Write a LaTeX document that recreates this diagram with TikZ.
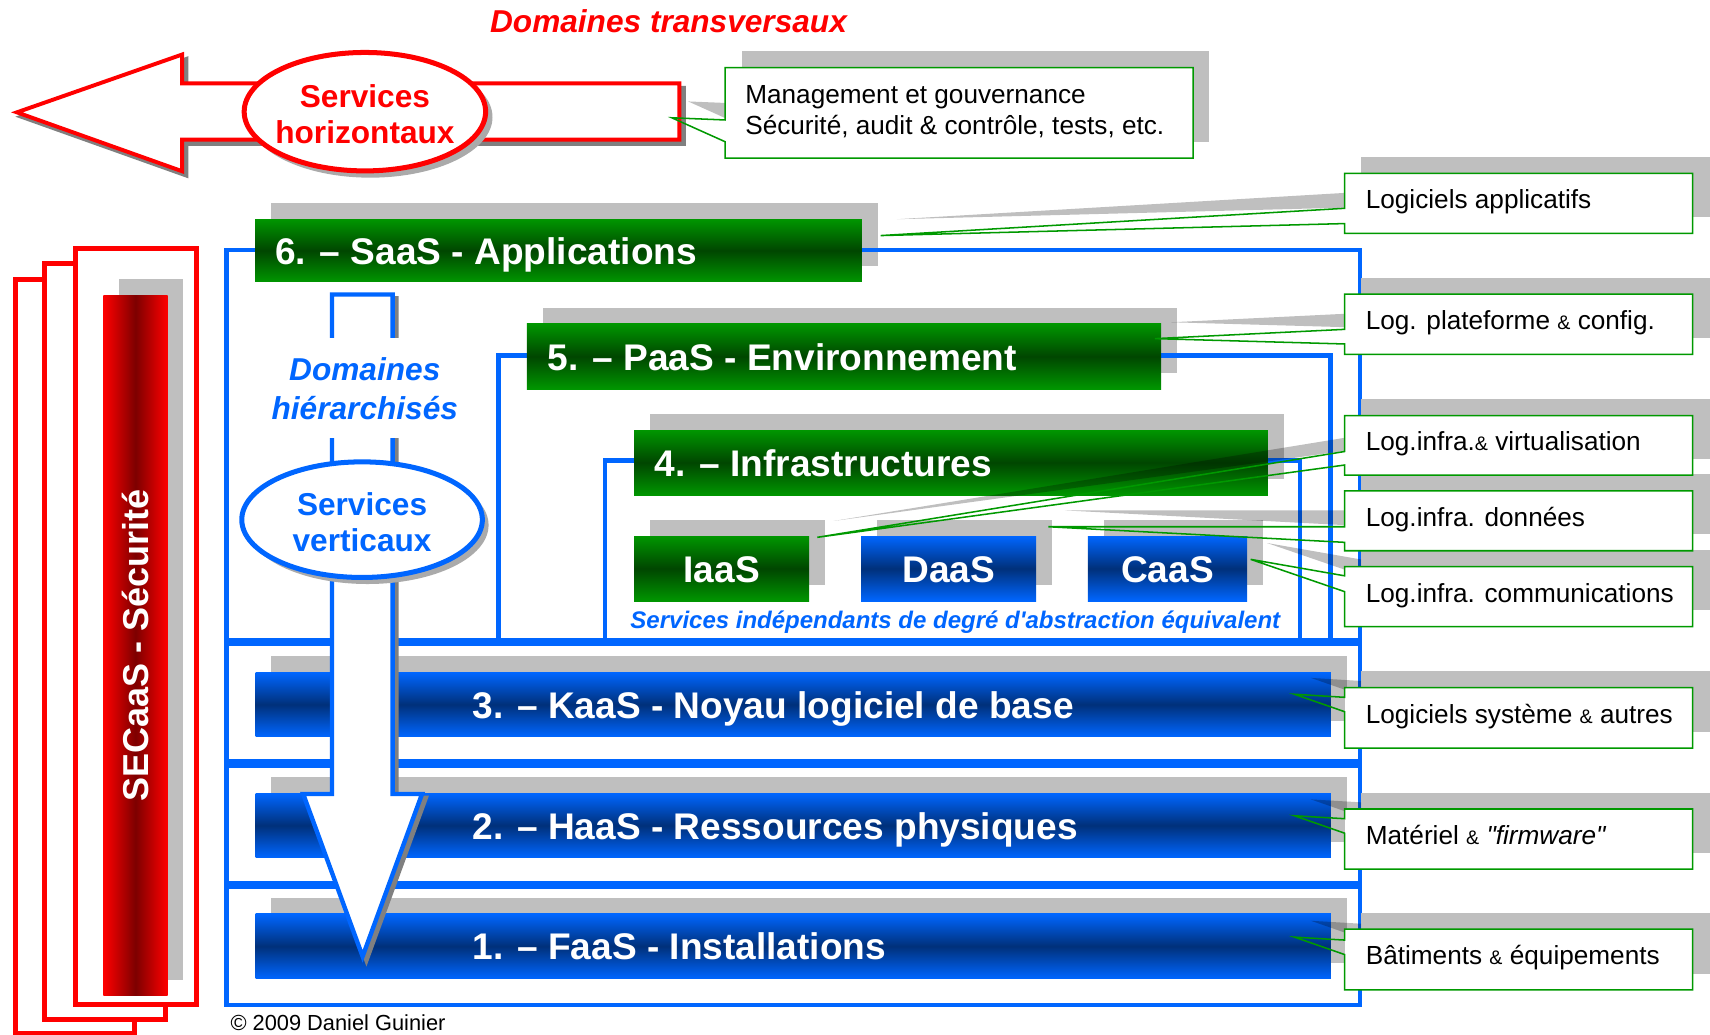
\documentclass[tikz,border=0pt]{standalone}
\usepackage{fontspec}
\setmainfont{Liberation Sans}[Ligatures=TeXOff]
\newdimen\pxu
\pxu=0.5pt
\definecolor{gB}{RGB}{0,150,0}
\definecolor{gD}{RGB}{0,70,0}
\definecolor{bB}{RGB}{0,102,255}
\definecolor{bD}{RGB}{0,48,122}
\definecolor{rB}{RGB}{255,0,0}
\definecolor{rD}{RGB}{125,0,0}
\definecolor{lblue}{RGB}{0,102,255}
\definecolor{cgreen}{RGB}{0,153,0}
\definecolor{shdgray}{RGB}{191,191,191}
\definecolor{ashd}{RGB}{128,128,128}
\definecolor{eshd}{RGB}{170,170,170}
\definecolor{tred}{RGB}{255,0,0}
\tikzset{
  gbar/.style={top color=gB, bottom color=gB, middle color=gD},
  bbar/.style={top color=bB, bottom color=bB, middle color=bD},
  bartxt/.style={text=white, font=\fontsize{17}{20}\selectfont\bfseries, inner sep=0pt},
  bframe/.style={draw=lblue, line width=2pt},
  rframe/.style={draw=tred, line width=2.3pt, fill=white},
  callbox/.style={fill=white, inner sep=0pt, outer sep=0pt, anchor=north west, minimum width=159.5pt},
  callline/.style={draw=cgreen, line width=0.7pt, line join=miter},
  ctext/.style={font=\fontsize{12}{14.5}\selectfont, anchor=base west, inner sep=0pt, text=black},
  wshd/.style={fill=black, fill opacity=0.25},
  bigtxt/.style={font=\fontsize{14.5}{16.7}\selectfont\bfseries, align=center, inner sep=0pt},
}
\newcommand\barshadow[4]{\fill[shdgray] ({#1+14.5},{#2-14.7}) rectangle ({#3+14.5},{#4-14.7});}
\newcommand\layerbar[8]{\path[#1] (#3,#4) rectangle (#5,#6);
  \node[bartxt, anchor=base west] (#2) at (#7,{(#4+#6)/2+12.5}) {#8};}
\newcommand\smallbar[7]{\path[#1] (#3,#4) rectangle (#5,#6);
  \node[bartxt, anchor=base] (#2) at ({(#3+#5)/2},{(#4+#6)/2+12.5}) {#7};}
\newcommand\rcallshadow[7]{%
  \fill[shdgray] (1248,{#2-15}) rectangle (1568,{#3-15});
  \fill[wshd] (1248,{#4-15}) -- ({#6+15},{#7-15}) -- (1248,{#5-15}) -- cycle;}
\newcommand\rcallbox[8]{%
  \node[callbox, minimum height={(#3-#2)*\pxu}] (#1) at (1233,#2) {};
  \coordinate (#1a) at (1233,#4);
  \coordinate (#1b) at (1233,#5);
  \coordinate (#1t) at (#6,#7);
  \draw[callline] (#1a) -- (#1.north west) -- (#1.north east) -- (#1.south east) -- (#1.south west) -- (#1b) -- (#1t) -- cycle;
  \node[ctext] (#1x) at (1252,{#2+32.5}) {#8};}
\newcommand\samp{{\fontsize{9}{9}\selectfont\&}}
\begin{document}
\begin{tikzpicture}[x=0.5pt, y=-0.5pt]
\useasboundingbox (0,0) rectangle (1568,949);
\fill[white] (0,0) rectangle (1568,949);
% left security pages
\draw[rframe] (13.8,256) rectangle (123.7,947.5);
\draw[rframe] (41,242) rectangle (151.8,934.5);
\draw[rframe] (69,228) rectangle (180,921);
\fill[shdgray] (109.4,256) rectangle (168.1,898.6);
\path[left color=rB, right color=rB, middle color=rD] (94.8,270.5) rectangle (153.8,913);
\node[rotate=90, anchor=base, text=white, font=\fontsize{16.5}{19}\selectfont\bfseries, inner sep=0pt] (sec) at (136,592) {SECaaS - Sécurité};
% bar shadows
\barshadow{234}{201}{790.4}{258.5}
\barshadow{483.2}{297}{1064.8}{356.7}
\barshadow{581.5}{394.3}{1162.6}{453.9}
\barshadow{581.5}{491.5}{742}{551.1}
\barshadow{789.7}{491.5}{950.1}{551.1}
\barshadow{997.5}{491.5}{1143.5}{551.1}
\barshadow{234.4}{616.5}{1220.4}{675.5}
\barshadow{234.4}{727.4}{1220.4}{786.4}
\barshadow{234.4}{838}{1220.4}{897.4}
% frames
\draw[bframe] (207.6,229) rectangle (1247,587);
\draw[bframe] (457,326) rectangle (1220,587);
\draw[bframe] (555,422.3) rectangle (1192,587);
\draw[bframe] (207.6,590) rectangle (1247,698);
\draw[bframe] (207.6,702) rectangle (1247,809.5);
\draw[bframe] (207.6,813) rectangle (1247,921.5);
% bars
\layerbar{gbar}{saas}{234}{201}{790.4}{258.5}{252}{6. – SaaS - Applications}
\layerbar{gbar}{paas}{483.2}{297}{1064.8}{356.7}{502}{5. – PaaS - Environnement}
\layerbar{gbar}{infra}{581.5}{394.3}{1162.6}{453.9}{600}{4. – Infrastructures}
\smallbar{gbar}{iaas}{581.5}{491.5}{742}{551.1}{IaaS}
\smallbar{bbar}{daas}{789.7}{491.5}{950.1}{551.1}{DaaS}
\smallbar{bbar}{caas}{997.5}{491.5}{1143.5}{551.1}{CaaS}
\layerbar{bbar}{kaas}{234.4}{616.5}{1220.4}{675.5}{433}{3. – KaaS - Noyau logiciel de base}
\layerbar{bbar}{haas}{234.4}{727.4}{1220.4}{786.4}{433}{2. – HaaS - Ressources physiques}
\layerbar{bbar}{faas}{234.4}{838}{1220.4}{897.4}{433}{1. – FaaS - Installations}
\node[anchor=base, text=lblue, font=\fontsize{11}{13}\selectfont\bfseries\itshape, inner sep=0pt] (cap) at (876,576.4) {Services indépendants de degré d'abstraction équivalent};
% vertical arrow
\path[fill=ashd, draw=ashd, line width=2pt, line join=miter, shift={(3.5,3.5)}] (304.4,270) -- (360,270) -- (360,728) -- (387,728) -- (332.5,877) -- (278,728) -- (304.4,728) -- cycle;
\draw[draw=lblue, fill=white, line width=2pt, line join=miter] (304.4,270) -- (360,270) -- (360,728) -- (387,728) -- (332.5,877) -- (278,728) -- (304.4,728) -- cycle;
\node[bigtxt, text=lblue, font=\fontsize{14.5}{17.9}\selectfont\bfseries\itshape, fill=white, minimum height=46pt] (dh) at (334.5,356) {Domaines\\hiérarchisés};
\fill[eshd] (337,481.5) ellipse [x radius=111, y radius=54];
\draw[draw=lblue, line width=2.3pt, fill=white] (332,476.5) ellipse [x radius=110.3, y radius=53];
\node[bigtxt, text=lblue, font=\fontsize{14.5}{16.5}\selectfont\bfseries] (sv) at (332,478.5) {Services\\verticaux};
% horizontal arrow
\path[fill=ashd, draw=ashd, line width=1.8pt, line join=miter, shift={(4,4)}] (623,76.5) -- (167,76.5) -- (167,50) -- (15.5,103) -- (167,157) -- (167,128) -- (623,128) -- cycle;
\draw[draw=tred, fill=white, line width=1.8pt, line join=miter] (623,76.5) -- (167,76.5) -- (167,50) -- (15.5,103) -- (167,157) -- (167,128) -- (623,128) -- cycle;
\fill[eshd] (339.6,107.4) ellipse [x radius=112, y radius=55.5];
\draw[draw=tred, line width=2.3pt, fill=white] (334.6,102.4) ellipse [x radius=110.7, y radius=54.3];
\node[bigtxt, text=tred] (sh) at (334.6,104.5) {Services\\horizontaux};
\node[anchor=base, text=tred, font=\fontsize{14.5}{17}\selectfont\bfseries\itshape, inner sep=0pt] (dt) at (613,29.6) {Domaines transversaux};
% callout shadows
\fill[shdgray] (680,46.7) rectangle (1109,130);
\fill[wshd] (680,95) -- (631,93) -- (680,115) -- cycle;
\rcallshadow{la}{159}{214}{191}{205}{807.5}{216}
\rcallshadow{lp}{269.6}{324.9}{302}{315.4}{1059}{310.5}
\rcallshadow{lv}{381}{435.6}{414}{426.4}{749.4}{492.7}
\rcallshadow{ld}{450}{505}{483}{497.3}{961.4}{483}
\rcallshadow{lc}{519.6}{574.6}{528}{542.5}{1146.8}{512.9}
\rcallshadow{ls}{630.5}{686}{639.4}{652.6}{1187}{636.6}
\rcallshadow{lm}{741.8}{797}{750.7}{764}{1187}{748}
\rcallshadow{lb}{852}{907.7}{862}{875.3}{1187}{859.3}
% callout boxes
\node[callbox, minimum width=214.5pt, minimum height=41.5pt] (mg) at (665,62) {};
\coordinate (mga) at (665,110);
\coordinate (mgb) at (665,130);
\coordinate (mgt) at (616,108);
\draw[callline] (mga) -- (mg.north west) -- (mg.north east) -- (mg.south east) -- (mg.south west) -- (mgb) -- (mgt) -- cycle;
\node[ctext] (mg1) at (683,94.8) {Management et gouvernance};
\node[ctext] (mg2) at (683,123.2) {Sécurité, audit \& contrôle, tests, etc.};
\rcallbox{la}{159}{214}{191}{205}{807.5}{216}{Logiciels applicatifs}
\rcallbox{lp}{269.6}{324.9}{302}{315.4}{1059}{310.5}{Log. plateforme \samp{} config.}
\rcallbox{lv}{381}{435.6}{414}{426.4}{749.4}{492.7}{Log.infra.\samp{} virtualisation}
\rcallbox{ld}{450}{505}{483}{497.3}{961.4}{483}{Log.infra. données}
\rcallbox{lc}{519.6}{574.6}{528}{542.5}{1146.8}{512.9}{Log.infra. communications}
\rcallbox{ls}{630.5}{686}{639.4}{652.6}{1187}{636.6}{Logiciels système \samp{} autres}
\rcallbox{lm}{741.8}{797}{750.7}{764}{1187}{748}{Matériel \samp{} \textit{"firmware"}}
\rcallbox{lb}{852}{907.7}{862}{875.3}{1187}{859.3}{Bâtiments \samp{} équipements}
\node[anchor=base west, font=\fontsize{10}{12}\selectfont, inner sep=0pt] (copy) at (211,945) {© 2009 Daniel Guinier};
\end{tikzpicture}
\end{document}
